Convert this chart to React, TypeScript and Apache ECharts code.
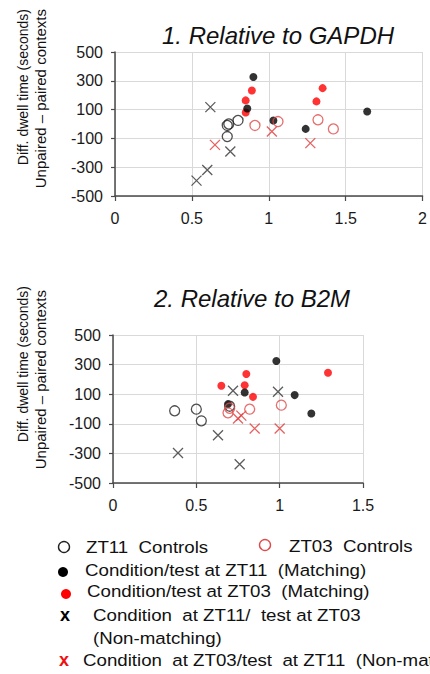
import React, { useEffect, useRef } from "react";
import * as echarts from "echarts";

// ---------- Data ----------
const xTicks1 = [0, 0.5, 1, 1.5, 2];
const xTicks2 = [0, 0.5, 1, 1.5];
const yTicks = [-500, -300, -100, 100, 300, 500];

// Panel 1: Relative to GAPDH
const ctrlZT11_1 = [[0.73, -10], [0.74, 0], [0.8, 25], [0.73, -87]];
const ctrlZT03_1 = [[0.91, -10], [1.06, 17], [1.32, 29], [1.42, -34]];
const matchZT11_1 = [[0.9, 326], [0.86, 108], [1.03, 24], [1.24, -34], [1.64, 87]];
const matchZT03_1 = [[0.85, 80], [0.85, 164], [0.89, 233], [1.31, 157], [1.35, 249]];
const nonZT11_1 = [[0.62, 117], [0.75, -191], [0.6, -319], [0.53, -393]];
const nonZT03_1 = [[0.65, -145], [1.02, -52], [1.27, -133]];

// Panel 2: Relative to B2M
const ctrlZT11_2 = [[0.37, -12], [0.5, -1], [0.53, -80], [0.7, 19]];
const ctrlZT03_2 = [[0.69, -26], [0.7, 5], [0.82, -1], [1.01, 26]];
const matchZT11_2 = [[0.98, 324], [0.79, 112], [1.09, 94], [1.19, -30], [0.69, 33]];
const matchZT03_2 = [[0.65, 157], [0.8, 236], [0.79, 161], [0.84, 82], [1.29, 245]];
const nonZT11_2 = [[0.72, 123], [0.99, 116], [0.63, -177], [0.39, -297], [0.76, -373]];
const nonZT03_2 = [[0.75, -64], [0.77, -45], [0.85, -132], [1.0, -132]];

const titles = ["1. Relative to GAPDH", "2. Relative to B2M"];
const yTitleLines = ["Diff. dwell time (seconds)", "Unpaired \u2013 paired contexts"];
const legendLabels = [
  "ZT11  Controls",
  "ZT03  Controls",
  "Condition/test at ZT11  (Matching)",
  "Condition/test at ZT03  (Matching)",
  "Condition  at ZT11/  test at ZT03",
  "(Non-matching)",
  "Condition  at ZT03/test  at ZT11  (Non-matching)",
];

const FONT = "Liberation Sans, Arial, sans-serif";
const X_PATH = "path://M0,0L10,10M10,0L0,10";

const BLACK_OPEN = "#222222";
const RED_OPEN = "#e04a4a";
const RED_FILL = "#ff0000";
const BLACK_X = "#333333";
const RED_X = "#e03a3a";

function seriesFor(idx: number, sets: number[][][]) {
  const [c11, c03, m11, m03, n11, n03] = sets;
  const base = { type: "scatter", xAxisIndex: idx, yAxisIndex: idx, silent: true };
  return [
    { ...base, data: n11, symbol: X_PATH, symbolSize: 10, itemStyle: { color: "transparent", borderColor: BLACK_X, borderWidth: 1.3 } },
    { ...base, data: n03, symbol: X_PATH, symbolSize: 10, itemStyle: { color: "transparent", borderColor: RED_X, borderWidth: 1.3 } },
    { ...base, data: m03, symbol: "circle", symbolSize: 8, itemStyle: { color: RED_FILL } },
    { ...base, data: m11, symbol: "circle", symbolSize: 8, itemStyle: { color: "#000000" } },
    { ...base, data: c11, symbol: "circle", symbolSize: 10, itemStyle: { color: "transparent", borderColor: BLACK_OPEN, borderWidth: 1.3 } },
    { ...base, data: c03, symbol: "circle", symbolSize: 10, itemStyle: { color: "transparent", borderColor: RED_OPEN, borderWidth: 1.3 } },
  ];
}

function xAxisFor(idx: number, max: number) {
  return {
    type: "value",
    gridIndex: idx,
    min: 0,
    max,
    interval: 0.5,
    axisLine: { show: true, onZero: false, lineStyle: { color: "#4a4a4a", width: 1.5 } },
    axisTick: { show: true, length: 5, lineStyle: { color: "#4a4a4a", width: 1.2 } },
    axisLabel: { fontFamily: FONT, fontSize: 16, color: "#1a1a1a", margin: 14 },
    splitLine: { show: true, lineStyle: { color: "#d9d9d9", width: 1 } },
  };
}

function yAxisFor(idx: number) {
  return {
    type: "value",
    gridIndex: idx,
    min: yTicks[0],
    max: yTicks[yTicks.length - 1],
    interval: 200,
    axisLine: { show: true, onZero: false, lineStyle: { color: "#4a4a4a", width: 1.5 } },
    axisTick: { show: true, length: 4, lineStyle: { color: "#4a4a4a", width: 1.2 } },
    axisLabel: { fontFamily: FONT, fontSize: 16, color: "#1a1a1a", margin: 12 },
    splitLine: { show: true, lineStyle: { color: "#d9d9d9", width: 1 } },
  };
}

function textEl(text: string, x: number, y: number, opts: any = {}) {
  return {
    type: "text",
    x,
    y,
    rotation: opts.rotation || 0,
    scaleX: opts.scaleX || 1,
    silent: true,
    style: {
      text,
      fill: opts.fill || "#111111",
      fontFamily: FONT,
      fontSize: opts.fontSize || 16,
      fontStyle: opts.fontStyle || "normal",
      fontWeight: opts.fontWeight || "normal",
      align: opts.align || "left",
      verticalAlign: "middle",
    },
  };
}

export default function App() {
  const ref = useRef<HTMLDivElement>(null);

  useEffect(() => {
    if (!ref.current) return;
    const chart = echarts.init(ref.current, null, { renderer: "svg" });
    const LS = 1.1; // legend horizontal stretch
    const LF = 17;
    const option = {
      animation: false,
      backgroundColor: "#ffffff",
      grid: [
        { left: 115, top: 52, width: 308, height: 144, containLabel: false },
        { left: 113, top: 335, width: 250, height: 148, containLabel: false },
      ],
      xAxis: [xAxisFor(0, xTicks1[xTicks1.length - 1]), xAxisFor(1, xTicks2[xTicks2.length - 1])],
      yAxis: [yAxisFor(0), yAxisFor(1)],
      series: [
        ...seriesFor(0, [ctrlZT11_1, ctrlZT03_1, matchZT11_1, matchZT03_1, nonZT11_1, nonZT03_1]),
        ...seriesFor(1, [ctrlZT11_2, ctrlZT03_2, matchZT11_2, matchZT03_2, nonZT11_2, nonZT03_2]),
      ],
      graphic: [
        // titles
        textEl(titles[0], 278, 35, { fontSize: 24, fontStyle: "italic", align: "center" }),
        textEl(titles[1], 252, 298, { fontSize: 24, fontStyle: "italic", align: "center" }),
        // y axis titles panel 1
        textEl(yTitleLines[0], 23, 9, { rotation: Math.PI / 2, align: "right", fontSize: 14 }),
        textEl(yTitleLines[1], 40, 9, { rotation: Math.PI / 2, align: "right", fontSize: 15 }),
        // y axis titles panel 2
        textEl(yTitleLines[0], 23, 286, { rotation: Math.PI / 2, align: "right", fontSize: 14 }),
        textEl(yTitleLines[1], 40, 290, { rotation: Math.PI / 2, align: "right", fontSize: 15 }),
        // legend
        { type: "circle", silent: true, shape: { cx: 64, cy: 547, r: 5.5 }, style: { fill: "#fff", stroke: "#222", lineWidth: 1.4 } },
        textEl(legendLabels[0], 86, 547, { scaleX: LS, fontSize: LF }),
        { type: "circle", silent: true, shape: { cx: 265, cy: 545, r: 5.5 }, style: { fill: "#fff", stroke: RED_OPEN, lineWidth: 1.4 } },
        textEl(legendLabels[1], 289, 546, { scaleX: LS, fontSize: LF }),
        { type: "circle", silent: true, shape: { cx: 63, cy: 572, r: 5 }, style: { fill: "#000" } },
        textEl(legendLabels[2], 85, 570, { scaleX: LS, fontSize: LF }),
        { type: "circle", silent: true, shape: { cx: 66, cy: 594, r: 5 }, style: { fill: RED_FILL } },
        textEl(legendLabels[3], 87, 591, { scaleX: LS, fontSize: LF }),
        textEl("x", 65, 615, { fontSize: 18, fontWeight: "bold", align: "center", fill: "#000" }),
        textEl(legendLabels[4], 93, 615, { scaleX: LS, fontSize: LF }),
        textEl(legendLabels[5], 93, 638, { scaleX: LS, fontSize: LF }),
        textEl("x", 64, 660, { fontSize: 18, fontWeight: "bold", align: "center", fill: "#ee1111" }),
        textEl(legendLabels[6], 83, 660, { scaleX: LS, fontSize: LF }),
      ],
    };
    chart.setOption(option as any);
    return () => chart.dispose();
  }, []);

  return (
    <div
      ref={ref}
      style={{ position: "fixed", left: 0, top: 0, width: 430, height: 674, background: "#fff" }}
    />
  );
}
